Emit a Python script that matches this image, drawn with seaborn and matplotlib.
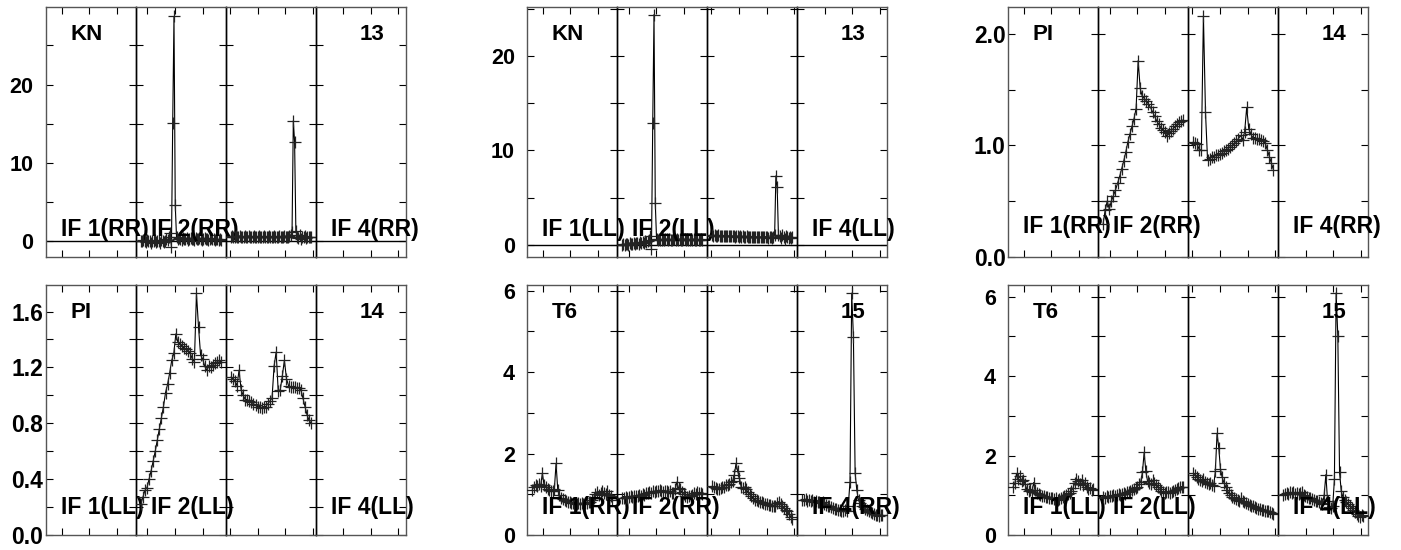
import numpy as np
import matplotlib
matplotlib.use("Agg")
import matplotlib.pyplot as plt
import seaborn as sns

# ---- data (one list per IF, empty = no data) ----
kn_rr_if2 = [0.1, 0.0, 0.2, 0.1, -0.1, 0.2, 0.0, 0.1, -0.2, 0.1, 0.0, 0.2, -0.1, 0.1, 0.0, -0.2,
             0.2, 0.1, -0.1, 0.0, 0.3, 0.2, 0.5, 1.0, -0.7, 15.1, 28.7, 4.6, 0.5, 0.3, 0.4, 0.3,
             0.2, 0.4, 0.3, 0.3, 0.4, 0.2, 0.3, 0.4, 0.3, 0.3, 0.2, 0.4, 0.3, 0.3, 0.4, 0.3,
             0.2, 0.3, 0.4, 0.3, 0.3, 0.2, 0.3, 0.4, 0.3, 0.3, 0.2, 0.3, 0.3, 0.2, 0.3, 0.2]
kn_rr_if3 = [0.6, 0.7, 0.6, 0.6, 0.7, 0.5, 0.6, 0.7, 0.6, 0.6, 0.5, 0.7, 0.6, 0.6, 0.7, 0.6,
             0.5, 0.6, 0.7, 0.6, 0.6, 0.6, 0.7, 0.5, 0.6, 0.6, 0.7, 0.6, 0.6, 0.5, 0.7, 0.6,
             0.6, 0.6, 0.7, 0.6, 0.5, 0.6, 0.7, 0.6, 0.6, 0.6, 0.7, 0.6, 0.5, 0.6, 0.7, 0.8,
             1.2, 15.4, 12.7, 1.3, 0.6, 0.4, 0.8, 0.3, 0.6, 0.5, 0.7, 0.4, 0.6, 0.5, 0.6, 0.6]
kn_ll_if2 = [0.0, 0.1, 0.0, 0.1, 0.1, 0.0, 0.2, 0.1, 0.1, 0.2, 0.1, 0.2, 0.2, 0.1, 0.3, 0.2,
             0.3, 0.2, 0.4, 0.3, 0.4, 0.5, 0.9, -0.45, 12.9, 24.4, 4.4, 0.6, 0.5, 0.6, 0.5, 0.5,
             0.6, 0.5, 0.6, 0.6, 0.5, 0.6, 0.5, 0.5, 0.6, 0.6, 0.5, 0.6, 0.5, 0.6, 0.5, 0.5,
             0.6, 0.6, 0.5, 0.6, 0.5, 0.5, 0.6, 0.5, 0.6, 0.5, 0.5, 0.6, 0.5, 0.5, 0.6, 0.5]
kn_ll_if3 = [1.0, 0.95, 1.0, 0.95, 0.95, 1.0, 0.9, 0.95, 0.95, 0.9, 0.95, 0.9, 0.95, 0.9, 0.9, 0.95,
             0.9, 0.9, 0.85, 0.9, 0.9, 0.85, 0.9, 0.85, 0.9, 0.85, 0.85, 0.9, 0.85, 0.85, 0.8, 0.85,
             0.85, 0.8, 0.85, 0.8, 0.85, 0.8, 0.8, 0.85, 0.8, 0.8, 0.85, 0.8, 0.75, 0.8, 0.8, 0.75,
             0.85, 1.0, 7.3, 6.1, 1.0, 0.9, 0.7, 1.0, 0.8, 0.6, 0.9, 0.8, 0.7, 0.8, 0.75, 0.8]

pi_rr_if2 = [0.30, 0.42, 0.50, 0.43, 0.50, 0.55, 0.60, 0.66, 0.72, 0.79, 0.86, 0.94, 1.03, 1.10,
             1.17, 1.24, 1.33, 1.76, 1.51, 1.44, 1.42, 1.40, 1.37, 1.34, 1.30, 1.26, 1.22, 1.19,
             1.16, 1.14, 1.12, 1.08, 1.11, 1.13, 1.15, 1.17, 1.19, 1.21, 1.22, 1.23]
pi_rr_if3 = [1.03, 1.02, 1.01, 0.96, 0.96, 2.16, 1.30, 0.87, 0.88, 0.90, 0.90, 0.91, 0.91, 0.92,
             0.93, 0.95, 0.96, 0.97, 0.99, 1.00, 1.02, 1.04, 1.06, 1.09, 1.05, 1.12, 1.34, 1.15,
             1.10, 1.07, 1.07, 1.06, 1.06, 1.05, 1.04, 1.02, 0.96, 0.90, 0.84, 0.78]
pi_ll_if2 = [0.22, 0.27, 0.32, 0.34, 0.40, 0.46, 0.53, 0.60, 0.68, 0.76, 0.84, 0.92, 1.02, 1.08,
             1.16, 1.25, 1.30, 1.44, 1.38, 1.37, 1.35, 1.34, 1.33, 1.32, 1.30, 1.26, 1.24, 1.73,
             1.49, 1.29, 1.26, 1.21, 1.18, 1.21, 1.20, 1.22, 1.23, 1.24, 1.25, 1.24]
pi_ll_if3 = [1.13, 1.12, 1.10, 1.07, 1.18, 1.04, 1.00, 0.97, 0.97, 0.96, 0.95, 0.94, 0.93, 0.92,
             0.92, 0.91, 0.92, 0.92, 0.94, 0.96, 0.98, 1.21, 1.31, 1.03, 1.04, 1.14, 1.25, 1.12,
             1.07, 1.06, 1.06, 1.06, 1.05, 1.05, 1.04, 0.98, 0.92, 0.86, 0.82, 0.80]

t6_rr_if1 = [1.10, 1.18, 1.22, 1.20, 1.25, 1.20, 1.52, 1.22, 1.18, 1.12, 1.10, 1.08, 1.08, 1.12,
             1.76, 1.10, 0.98, 0.92, 0.88, 0.85, 0.84, 0.82, 0.80, 0.79, 0.78, 0.78, 0.77, 0.78,
             0.76, 0.78, 0.77, 0.79, 0.78, 0.80, 0.82, 0.85, 0.92, 1.00, 1.05, 0.98, 1.02, 1.08,
             1.04, 1.00, 1.07, 0.98, 0.95, 0.85]
t6_rr_if2 = [0.92, 0.90, 0.93, 0.92, 0.94, 0.95, 0.93, 0.96, 0.97, 0.95, 0.98, 0.97, 1.00, 0.99,
             1.02, 1.03, 1.05, 1.04, 1.07, 1.06, 1.09, 1.08, 1.10, 1.08, 1.06, 1.09, 1.07, 1.05,
             1.08, 1.04, 1.02, 1.12, 1.30, 1.15, 1.12, 1.05, 1.00, 0.96, 0.94, 0.97, 0.96, 0.99,
             1.02, 1.00, 1.05, 1.03, 1.02, 1.00]
t6_rr_if3 = [1.20, 1.18, 1.16, 1.14, 1.13, 1.15, 1.17, 1.19, 1.22, 1.24, 1.26, 1.30, 1.33, 1.48,
             1.76, 1.56, 1.40, 1.18, 1.15, 1.18, 1.12, 1.05, 1.00, 0.95, 0.90, 0.87, 0.85, 0.83,
             0.82, 0.80, 0.79, 0.77, 0.76, 0.74, 0.73, 0.72, 0.70, 0.72, 0.78, 0.82, 0.76, 0.70,
             0.66, 0.62, 0.58, 0.52, 0.45, 0.40]
t6_rr_if4 = [0.86, 0.85, 0.88, 0.84, 0.86, 0.83, 0.85, 0.82, 0.84, 0.80, 0.82, 0.78, 0.80, 0.76,
             0.74, 0.72, 0.70, 0.68, 0.66, 0.64, 0.63, 0.61, 0.62, 0.60, 0.58, 0.62, 0.60, 0.72,
             1.31, 5.94, 4.87, 1.52, 1.10, 0.85, 0.78, 0.72, 0.68, 0.65, 0.62, 0.58, 0.56, 0.54,
             0.52, 0.50, 0.48, 0.46, 0.49, 0.50]
t6_ll_if1 = [1.22, 1.30, 1.55, 1.42, 1.48, 1.35, 1.38, 1.28, 1.15, 1.10, 1.12, 1.08, 1.32, 1.12,
             1.05, 1.02, 1.00, 0.98, 0.97, 0.95, 0.96, 0.94, 0.92, 0.93, 0.90, 0.92, 0.88, 0.90,
             0.92, 0.95, 0.98, 1.00, 1.02, 1.05, 1.10, 1.18, 1.30, 1.40, 1.35, 1.28, 1.38, 1.25,
             1.32, 1.20, 1.15, 1.18, 1.12, 1.15]
t6_ll_if2 = [0.95, 0.94, 0.97, 0.96, 0.98, 0.97, 1.00, 0.99, 1.01, 1.02, 1.00, 1.03, 1.05, 1.04,
             1.07, 1.08, 1.10, 1.12, 1.15, 1.18, 1.22, 1.28, 1.34, 1.58, 2.08, 1.60, 1.35, 1.30,
             1.28, 1.38, 1.32, 1.25, 1.20, 1.15, 1.10, 1.08, 1.05, 1.07, 1.09, 1.06, 1.08, 1.10,
             1.12, 1.15, 1.18, 1.20, 1.22, 1.20]
t6_ll_if3 = [1.55, 1.50, 1.46, 1.42, 1.38, 1.35, 1.40, 1.33, 1.30, 1.28, 1.32, 1.26, 1.24, 1.60,
             2.56, 2.20, 1.65, 1.45, 1.32, 1.22, 1.12, 1.05, 1.00, 0.96, 0.92, 0.90, 0.88, 0.86,
             0.92, 0.85, 0.82, 0.80, 0.78, 0.76, 0.74, 0.72, 0.70, 0.68, 0.66, 0.65, 0.63, 0.62,
             0.61, 0.60, 0.60, 0.58, 0.56, 0.52]
t6_ll_if4 = [1.00, 1.02, 1.05, 1.04, 1.07, 1.05, 1.08, 1.04, 1.06, 1.02, 1.05, 1.08, 1.00, 0.98,
             0.95, 0.93, 0.92, 0.90, 0.88, 0.86, 0.85, 0.83, 0.80, 0.78, 1.00, 1.52, 0.85, 0.70,
             0.68, 0.72, 1.40, 6.09, 5.00, 1.58, 1.10, 0.95, 0.88, 0.82, 0.78, 0.72, 0.68, 0.62,
             0.58, 0.52, 0.48, 0.46, 0.50, 0.48]

# panel definitions: source, antenna number, polarisation, per-IF data, channels, y axis
panels = [
    dict(src="KN", ant="13", pol="RR", ifs=[[], kn_rr_if2, kn_rr_if3, []], nch=64,
         ylim=(-2.0, 29.9), major=[0, 10, 20], minor=[5, 15, 25], fmt="{:.0f}", zero=True),
    dict(src="KN", ant="13", pol="LL", ifs=[[], kn_ll_if2, kn_ll_if3, []], nch=64,
         ylim=(-1.3, 25.2), major=[0, 10, 20], minor=[5, 15, 25], fmt="{:.0f}", zero=True),
    dict(src="PI", ant="14", pol="RR", ifs=[[], pi_rr_if2, pi_rr_if3, []], nch=40,
         ylim=(0, 2.24), major=[0, 1, 2], minor=[0.5, 1.5], fmt="{:.1f}", zero=False),
    dict(src="PI", ant="14", pol="LL", ifs=[[], pi_ll_if2, pi_ll_if3, []], nch=40,
         ylim=(0, 1.79), major=[0, 0.4, 0.8, 1.2, 1.6], minor=[0.2, 0.6, 1.0, 1.4],
         fmt="{:.1f}", zero=False),
    dict(src="T6", ant="15", pol="RR", ifs=[t6_rr_if1, t6_rr_if2, t6_rr_if3, t6_rr_if4], nch=48,
         ylim=(0, 6.14), major=[0, 2, 4, 6], minor=[1, 3, 5], fmt="{:.0f}", zero=False),
    dict(src="T6", ant="15", pol="LL", ifs=[t6_ll_if1, t6_ll_if2, t6_ll_if3, t6_ll_if4], nch=48,
         ylim=(0, 6.29), major=[0, 2, 4, 6], minor=[1, 3, 5], fmt="{:.0f}", zero=False),
]

# x tick positions within each IF box (fraction of box width)
xtick_frac = [[0.174, 0.478, 0.785], [0.126, 0.433, 0.741],
              [0.044, 0.352, 0.659, 0.963], [0.303, 0.611, 0.914]]

sns.set_theme(style="white")
plt.rcParams["font.family"] = ["Liberation Sans", "DejaVu Sans"]
plt.rcParams["font.weight"] = "bold"
for key in ["text.color", "axes.labelcolor", "xtick.color", "ytick.color"]:
    plt.rcParams[key] = "black"

W, H = 1401, 550
fig = plt.figure(figsize=(W / 100, H / 100), dpi=100)
fig.patch.set_facecolor("white")
col_left = [46, 527.3, 1008.3]
row_top = [7, 285]
box_w, box_h = 90, 250
outer = "#555555"

for p, cfg in enumerate(panels):
    r, c = divmod(p, 3)
    dec = cfg["fmt"] == "{:.1f}"
    for k in range(4):
        rect = [(col_left[c] + k * box_w) / W, 1 - (row_top[r] + box_h) / H, box_w / W, box_h / H]
        ax = fig.add_axes(rect)
        ax.set_facecolor("none")
        vals = cfg["ifs"][k]
        n = len(vals) if len(vals) else cfg["nch"]
        xmin, xmax = -0.06 * (n - 1), 1.06 * (n - 1)
        if cfg["zero"]:
            ax.axhline(0, color="black", lw=1.0, zorder=1)
        if len(vals):
            sns.lineplot(x=np.arange(n), y=np.array(vals), ax=ax, color="black",
                         linewidth=0.8, marker="+", markersize=8, markeredgewidth=0.9,
                         markeredgecolor="#222222", zorder=3)
        ax.set_xlim(xmin, xmax)
        ax.set_ylim(*cfg["ylim"])
        ax.set_xlabel("")
        ax.set_ylabel("")
        ax.set_xticks([xmin + f * (xmax - xmin) for f in xtick_frac[k]])
        ax.set_yticks(cfg["major"])
        ax.set_yticks(cfg["minor"], minor=True)
        ax.set_yticklabels([cfg["fmt"].format(v) for v in cfg["major"]],
                           fontsize=16.5 if dec else 15.5, fontweight="bold", color="black")
        ax.tick_params(which="both", direction="in", length=5, width=0.8, color="black",
                       top=True, bottom=True, left=True, right=True,
                       labelbottom=False, labelleft=(k == 0),
                       pad=2 if dec else 9)
        for side, sp in ax.spines.items():
            sp.set_linewidth(1.0)
            sp.set_visible(True)
            inner = (side == "left" and k > 0) or (side == "right" and k < 3)
            sp.set_color("black" if inner else outer)
        # labels
        ty = 0.094 if p == 2 else 0.083
        if k != 2:
            ax.text(0.167, ty, f"IF {k + 1}({cfg['pol']})", transform=ax.transAxes,
                    fontsize=16.5, fontweight="bold", va="baseline", ha="left",
                    color="black", clip_on=False, zorder=5)
        if k == 0:
            ax.text(0.27, 0.867, cfg["src"], transform=ax.transAxes, fontsize=16,
                    fontweight="bold", va="baseline", ha="left", color="black")
        if k == 3:
            ax.text(0.48, 0.867, cfg["ant"], transform=ax.transAxes, fontsize=16,
                    fontweight="bold", va="baseline", ha="left", color="black")

fig.savefig("out.png", dpi=100, facecolor="white")
